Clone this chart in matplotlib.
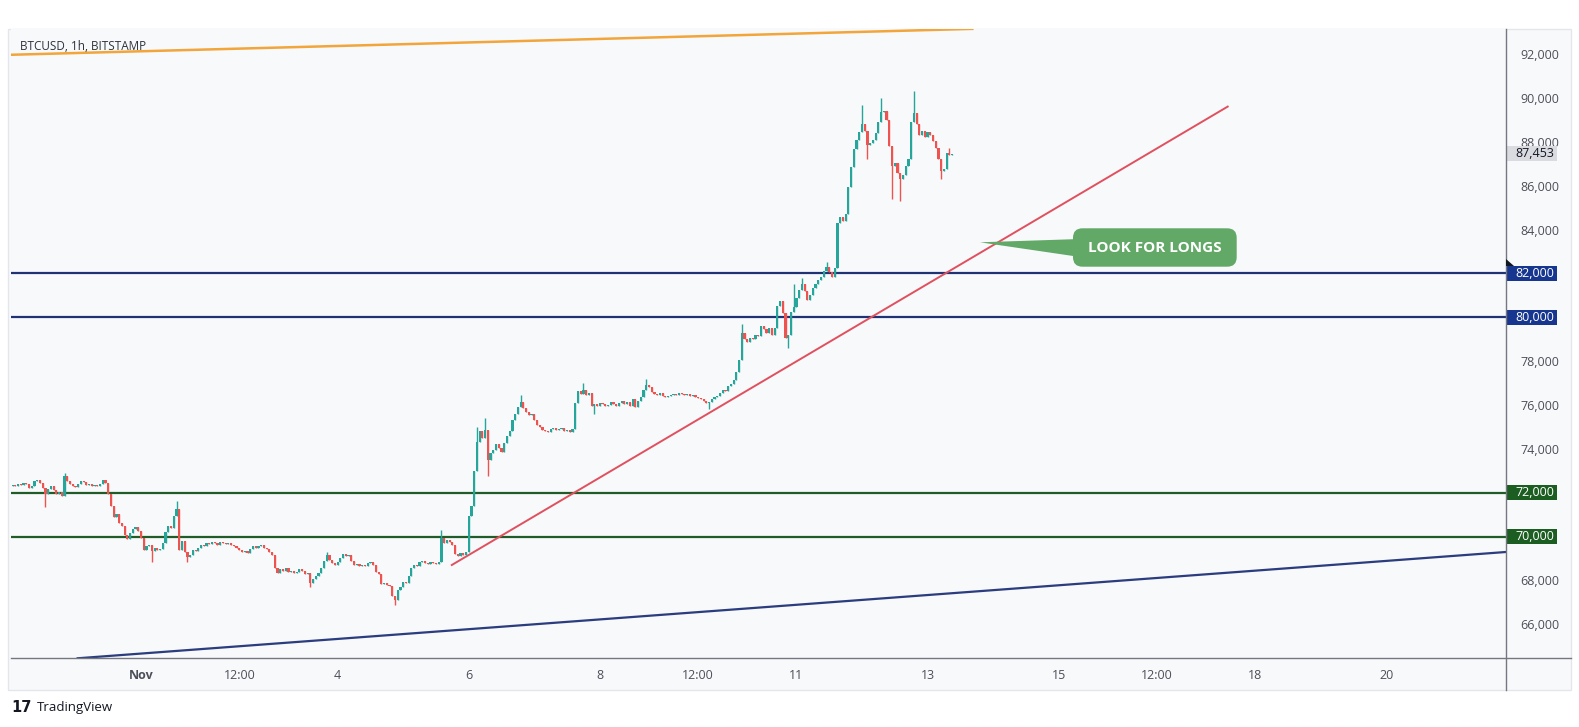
import numpy as np
import matplotlib
matplotlib.use("Agg")
import matplotlib.pyplot as plt
from matplotlib.patches import Rectangle, Polygon, FancyBboxPatch
from matplotlib.lines import Line2D

# ---------------- data ----------------
# hourly closes (thousand USD), first candle at hour -47 relative to Nov 1 00:00
first_hour = -47
first_open = 72.30
closes = [
    72.35, 72.30, 72.40, 72.35, 72.45, 72.40, 72.20, 72.30, 72.55, 72.60, 72.45, 72.20,
    71.95, 72.15, 72.30, 72.10, 71.95, 72.05, 71.85, 72.75, 72.55, 72.40, 72.30, 72.25,
    72.40, 72.55, 72.50, 72.35, 72.40, 72.30, 72.35, 72.30, 72.40, 72.60, 72.45, 71.95,
    71.40, 70.90, 71.05, 70.60, 70.50, 70.05, 69.90, 70.15, 70.35, 70.45, 70.25, 69.95,
    69.40, 69.55, 69.60, 69.35, 69.50, 69.40, 69.45, 69.70, 70.20, 70.50, 70.40, 70.95,
    71.25, 69.40, 69.80, 69.30, 69.05, 69.15, 69.40, 69.35, 69.50, 69.60, 69.55, 69.70,
    69.65, 69.75, 69.70, 69.60, 69.75, 69.70, 69.65, 69.70, 69.60, 69.55, 69.50, 69.40,
    69.30, 69.35, 69.25, 69.45, 69.55, 69.50, 69.55, 69.60, 69.50, 69.45, 69.30, 69.15,
    68.55, 68.35, 68.50, 68.45, 68.55, 68.40, 68.45, 68.35, 68.40, 68.50, 68.45, 68.30,
    68.35, 67.90, 68.05, 68.20, 68.35, 68.55, 68.90, 69.15, 68.95, 68.80, 68.70, 68.85,
    69.00, 69.20, 69.10, 69.15, 68.90, 68.70, 68.75, 68.65, 68.70, 68.65, 68.80, 68.85,
    68.70, 68.40, 68.30, 67.85, 67.90, 67.80, 67.75, 67.30, 67.10, 67.55, 67.70, 67.95,
    67.90, 68.20, 68.55, 68.70, 68.65, 68.85, 68.90, 68.80, 68.75, 68.85, 68.80, 68.75,
    68.85, 69.95, 69.70, 69.85, 69.75, 69.60, 69.20, 69.10, 69.25, 69.15, 69.30, 70.95,
    71.40, 73.00, 74.30, 74.80, 74.50, 74.85, 73.50, 73.80, 73.95, 74.20, 74.05, 73.85,
    74.25, 74.60, 74.80, 75.30, 75.60, 75.90, 76.15, 75.85, 75.70, 75.55, 75.60, 75.30,
    75.10, 75.00, 74.85, 74.80, 74.75, 74.90, 74.95, 74.85, 74.90, 74.95, 74.80, 74.85,
    74.75, 74.90, 76.10, 76.65, 76.50, 76.70, 76.45, 76.55, 75.95, 76.05, 75.95, 76.10,
    76.05, 75.95, 76.00, 76.15, 76.05, 75.95, 76.10, 76.20, 76.05, 76.15, 75.95, 76.25,
    75.90, 76.20, 76.35, 76.70, 76.90, 76.80, 76.60, 76.50, 76.45, 76.55, 76.40, 76.35,
    76.40, 76.45, 76.50, 76.45, 76.55, 76.50, 76.45, 76.50, 76.40, 76.45, 76.35, 76.30,
    76.25, 76.20, 76.10, 76.15, 76.25, 76.35, 76.40, 76.55, 76.70, 76.65, 76.85, 76.95,
    77.15, 77.50, 78.05, 79.30, 79.00, 78.85, 79.05, 79.00, 79.20, 79.15, 79.60, 79.45,
    79.30, 79.50, 79.20, 79.50, 80.50, 80.75, 80.20, 79.05, 79.20, 80.25, 80.45, 80.90,
    81.25, 81.50, 81.20, 80.80, 81.00, 81.35, 81.50, 81.70, 81.85, 82.10, 82.30, 82.05,
    81.85, 82.25, 84.30, 84.55, 84.40, 84.70, 85.95, 86.85, 87.65, 88.10, 88.45, 88.80,
    88.50, 87.85, 87.95, 88.10, 88.40, 88.90, 89.35, 89.40, 89.00, 87.80, 86.90, 87.05,
    86.60, 86.30, 86.50, 86.90, 87.20, 88.90, 89.30, 88.80, 88.30, 88.50, 88.20, 88.45,
    88.30, 88.05, 87.70, 87.20, 86.65, 86.75, 87.50, 87.40, 87.45,
]
# visible wick extremes (hour -> thousand USD)
high_wicks = {-28: 72.90, 13: 71.60, 68: 69.30, 110: 70.30, 123: 75.00, 126: 75.40,
              139: 76.45, 162: 77.00, 185: 77.20, 220: 79.70, 239: 81.50, 242: 81.80,
              251: 82.50, 264: 89.70, 271: 90.00, 283: 90.30, 296: 87.70}
low_wicks = {-35: 71.35, 4: 68.85, 17: 68.85, 62: 67.70, 93: 66.90, 127: 72.75,
             166: 75.60, 208: 75.80, 237: 78.60, 266: 87.20, 275: 85.40, 278: 85.30,
             293: 86.30}

support_levels = [72000, 70000]
resistance_levels = [82000, 80000]
orange_line = [(-47.2, 91970), (304.4, 93150)]
blue_line = [(-23.2, 64449), (499.8, 69296)]
red_line = [(113.8, 68703), (397.9, 89606)]

last_price = 87453
price_ticks = [66000, 68000, 74000, 76000, 78000, 84000, 86000, 88000, 90000, 92000]
time_ticks = [0, 36, 72, 120, 168, 204, 240, 288, 336, 372, 408, 456]
time_labels = ["Nov", "12:00", "4", "6", "8", "12:00", "11", "13", "15", "12:00", "18", "20"]
title = "BTCUSD, 1h, BITSTAMP"
callout = "LOOK FOR LONGS"

# ---------------- figure ----------------
W, H = 1579, 727
fig = plt.figure(figsize=(W / 100, H / 100), dpi=100)
fig.patch.set_facecolor("white")

def fx(x):
    return x / W

def fy(y):
    return 1 - y / H

PANEL = "#f8f9fb"
fig.patches.append(Rectangle((fx(8), fy(690)), (1571 - 8) / W, (690 - 29) / H,
                             transform=fig.transFigure, facecolor=PANEL,
                             edgecolor="#e4e6eb", lw=1.0, zorder=-5))

ax = fig.add_axes([fx(11), fy(658), (1506 - 11) / W, (658 - 29) / H])
ax.set_zorder(1)
ax.set_facecolor(PANEL)
for s in ax.spines.values():
    s.set_visible(False)
ax.set_xlim(-47.6, 499.8)
ax.set_ylim(64462, 93144)

# candles
c = np.array(closes) * 1000.0
o = np.r_[first_open * 1000.0, c[:-1]]
x = first_hour + np.arange(len(c))
hi = np.maximum(o, c)
lo = np.minimum(o, c)
for h, v in high_wicks.items():
    hi[h - first_hour] = max(hi[h - first_hour], v * 1000)
for h, v in low_wicks.items():
    lo[h - first_hour] = min(lo[h - first_hour], v * 1000)
UP, DN = "#26a69a", "#ef5350"
cols = np.where(c >= o, UP, DN)
ax.vlines(x, lo, hi, colors=cols, lw=1.0, zorder=3)
body = np.maximum(np.abs(c - o), 45)
ax.bar(x, body, bottom=np.minimum(o, c), width=0.8, color=cols, linewidth=0, zorder=4)

# levels
for lv in resistance_levels:
    ax.axhline(lv, color="#1f3273", lw=1.6, zorder=2)
for lv in support_levels:
    ax.axhline(lv, color="#1f5c27", lw=1.6, zorder=2)

# trendlines
ax.plot(*zip(*orange_line), color="#f2a53a", lw=1.8, zorder=2)
ax.plot(*zip(*blue_line), color="#2b3d7e", lw=1.6, zorder=2)
ax.plot(*zip(*red_line), color="#e0505f", lw=1.4, zorder=2)

# axes ticks
ax.set_xticks(time_ticks)
ax.set_xticklabels(time_labels)
ax.tick_params(axis="x", length=0, pad=8, labelsize=9, labelcolor="#4c4f59")
for lab in ax.get_xticklabels():
    lab.set_fontfamily("Open Sans")
    if lab.get_text() == "Nov":
        lab.set_fontweight("bold")
ax.yaxis.tick_right()
ax.set_yticks(price_ticks)
ax.set_yticklabels([f"{p:,}" for p in price_ticks])
ax.tick_params(axis="y", length=0, pad=10.5, labelsize=9, labelcolor="#4c4f59")
for lab in ax.get_yticklabels():
    lab.set_fontfamily("Open Sans")

# separators
fig.add_artist(Line2D([fx(1506), fx(1506)], [fy(29), fy(690)], color="#74777f", lw=1.0, zorder=5))
fig.add_artist(Line2D([fx(11), fx(1571)], [fy(658), fy(658)], color="#74777f", lw=1.0, zorder=5))

# highlighted price labels
ytr = ax.get_yaxis_transform()
box_h = 700

def price_tag(val, fc, tc):
    ax.add_patch(Rectangle((1.0007, val - box_h / 2), 50 / 1495, box_h, transform=ytr,
                           facecolor=fc, edgecolor="none", clip_on=False, zorder=6))
    ax.text(1.0060, val, f"{val:,}", transform=ytr, ha="left", va="center",
            color=tc, fontsize=9, family="Open Sans", clip_on=False, zorder=7)

for lv in resistance_levels:
    price_tag(lv, "#16368f", "white")
for lv in support_levels:
    price_tag(lv, "#1c5e22", "white")
price_tag(last_price, "#d9dbe0", "#131722")

# little marker above 82,000 tag
fig.patches.append(Polygon([(fx(1506), fy(259)), (fx(1514), fy(266)), (fx(1506), fy(266))],
                           closed=True, transform=fig.transFigure, facecolor="#131722",
                           edgecolor="none", zorder=8))

# title
fig.text(fx(20), fy(46.5), title, fontsize=8.5, color="#2e323c", family="Open Sans",
         ha="left", va="center", zorder=8)

# callout
GREEN = "#62a867"
fig.patches.append(Polygon([(fx(980), fy(242.3)), (fx(1080), fy(239)), (fx(1080), fy(257))],
                           closed=True, transform=fig.transFigure, facecolor=GREEN,
                           edgecolor="none", zorder=9))
fig.patches.append(FancyBboxPatch((fx(1073), fy(266.7)), (1236.7 - 1073) / W, (266.7 - 228.3) / H,
                                  boxstyle="round,pad=0,rounding_size=0.006",
                                  transform=fig.transFigure, facecolor=GREEN,
                                  edgecolor="none", zorder=9, mutation_aspect=W / H))
fig.text(fx(1155), fy(247.5), callout, fontsize=11, color="white", fontweight="bold",
         family="Open Sans", ha="center", va="center", zorder=10)

# footer
fig.text(fx(11), fy(708), "17", fontsize=10.5, color="#131722", fontweight="heavy",
         family="DejaVu Sans", ha="left", va="center")
fig.text(fx(37), fy(708), "TradingView", fontsize=9.5, color="#131722",
         family="Open Sans", ha="left", va="center")

fig.savefig("out.png", dpi=100, facecolor="white")
